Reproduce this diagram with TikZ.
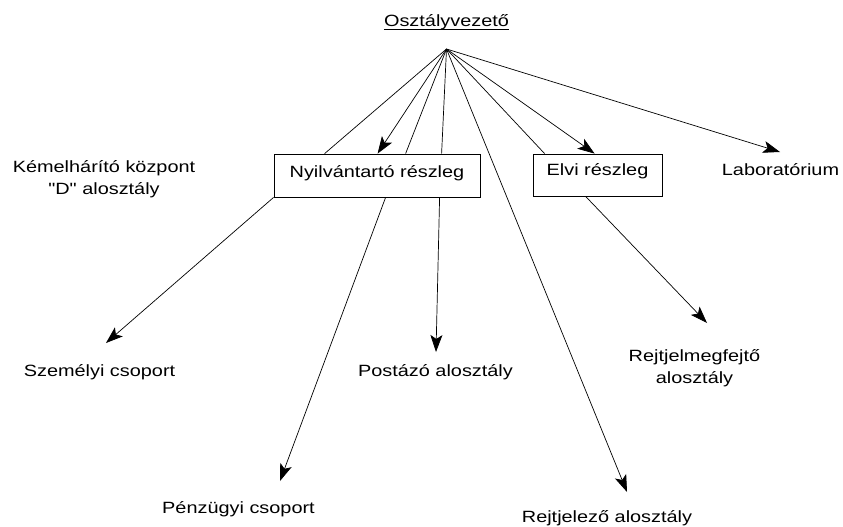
\documentclass[tikz,border=0pt]{standalone}
\usepackage{fontspec}
\newfontfamily\lsans{Liberation Sans}
\usetikzlibrary{arrows.meta,calc}
% labels are set a little wider than the plain font
\newcommand\wide[1]{\scalebox{1.22}[1]{#1}}
\newcommand\twolines[3]{\fontsize{16.3}{#3}\selectfont\wide{\begin{tabular}[t]{@{}c@{}}#1\\#2\end{tabular}}}

\begin{document}
\begin{tikzpicture}[x=1pt,y=-1pt,
  lbl/.style={font=\lsans\fontsize{16.3}{20}\selectfont, inner sep=0pt, anchor=base},
  unit/.style={draw, line width=0.8pt, inner sep=0pt,
    font=\lsans\fontsize{16.3}{20}\selectfont},
  link/.style={line width=0.7pt},
  arr/.style={link, -{Stealth[length=17pt,width=12pt,inset=4pt]}}]
\useasboundingbox[fill=white] (0,0) rectangle (843,527);

% head of the department
\node[lbl] (title) at (446.5,26.7) {\wide{Osztályvezető}};
\draw[line width=0.8pt] ($(title.base west)+(0,2.6)$) -- ($(title.base east)+(0,2.6)$);
\coordinate (hub) at (446.5,49);

% sections
\node[unit, minimum width=206pt, minimum height=43pt, text height=10pt, text depth=7pt]
  (nyil) at (377,175.5) {\wide{Nyilvántartó részleg}};
\node[unit, minimum width=129pt, minimum height=42pt, text height=8pt, text depth=8pt]
  (elvi) at (597.5,175) {\wide{Elvi részleg}};

% free-standing units
\node[lbl] (kem) at (104,172) {\lsans\twolines{Kémelhárító központ}{"D" alosztály}{22.8}};
\node[lbl] (lab) at (780.5,175) {\wide{Laboratórium}};
\node[lbl] (szem) at (99.5,376) {\wide{Személyi csoport}};
\node[lbl] (post) at (435.5,376) {\wide{Postázó alosztály}};
\node[lbl] (rejtm) at (694.5,361.7) {\lsans\twolines{Rejtjelmegfejtő}{alosztály}{21.7}};
\node[lbl] (penz) at (238.5,513) {\wide{Pénzügyi csoport}};
\node[lbl] (rejtz) at (607,522) {\wide{Rejtjelező alosztály}};

% arrow tips above the units
\coordinate (szemT) at (106,343);
\coordinate (penzT) at (280,481);
\coordinate (postT) at (436,352);
\coordinate (rejtzT) at (627,492);
\coordinate (rejtmT) at (707,323);
\coordinate (labT) at (780,152);

% links from the head
\draw[link] (hub) -- ($(nyil.north west)+(51,0)$);
\draw[arr]  (hub) -- ($(nyil.north west)+(104,0)$);
\draw[link] (hub) -- ($(nyil.north west)+(132,0)$);
\draw[link] (hub) -- ($(nyil.north west)+(168,0)$);
\draw[arr]  (hub) -- (rejtzT);
\draw[link] (hub) -- ($(elvi.north west)+(12,0)$);
\draw[arr]  (hub) -- ($(elvi.north west)+(62,0)$);
\draw[arr]  (hub) -- (labT);

% links below the sections
\draw[arr] (nyil.south west) -- (szemT);
\draw[arr] ($(nyil.south west)+(112,0)$) -- (penzT);
\draw[arr] ($(nyil.south west)+(166,0)$) -- (postT);
\draw[arr] ($(elvi.south west)+(53,0)$) -- (rejtmT);
\end{tikzpicture}
\end{document}
